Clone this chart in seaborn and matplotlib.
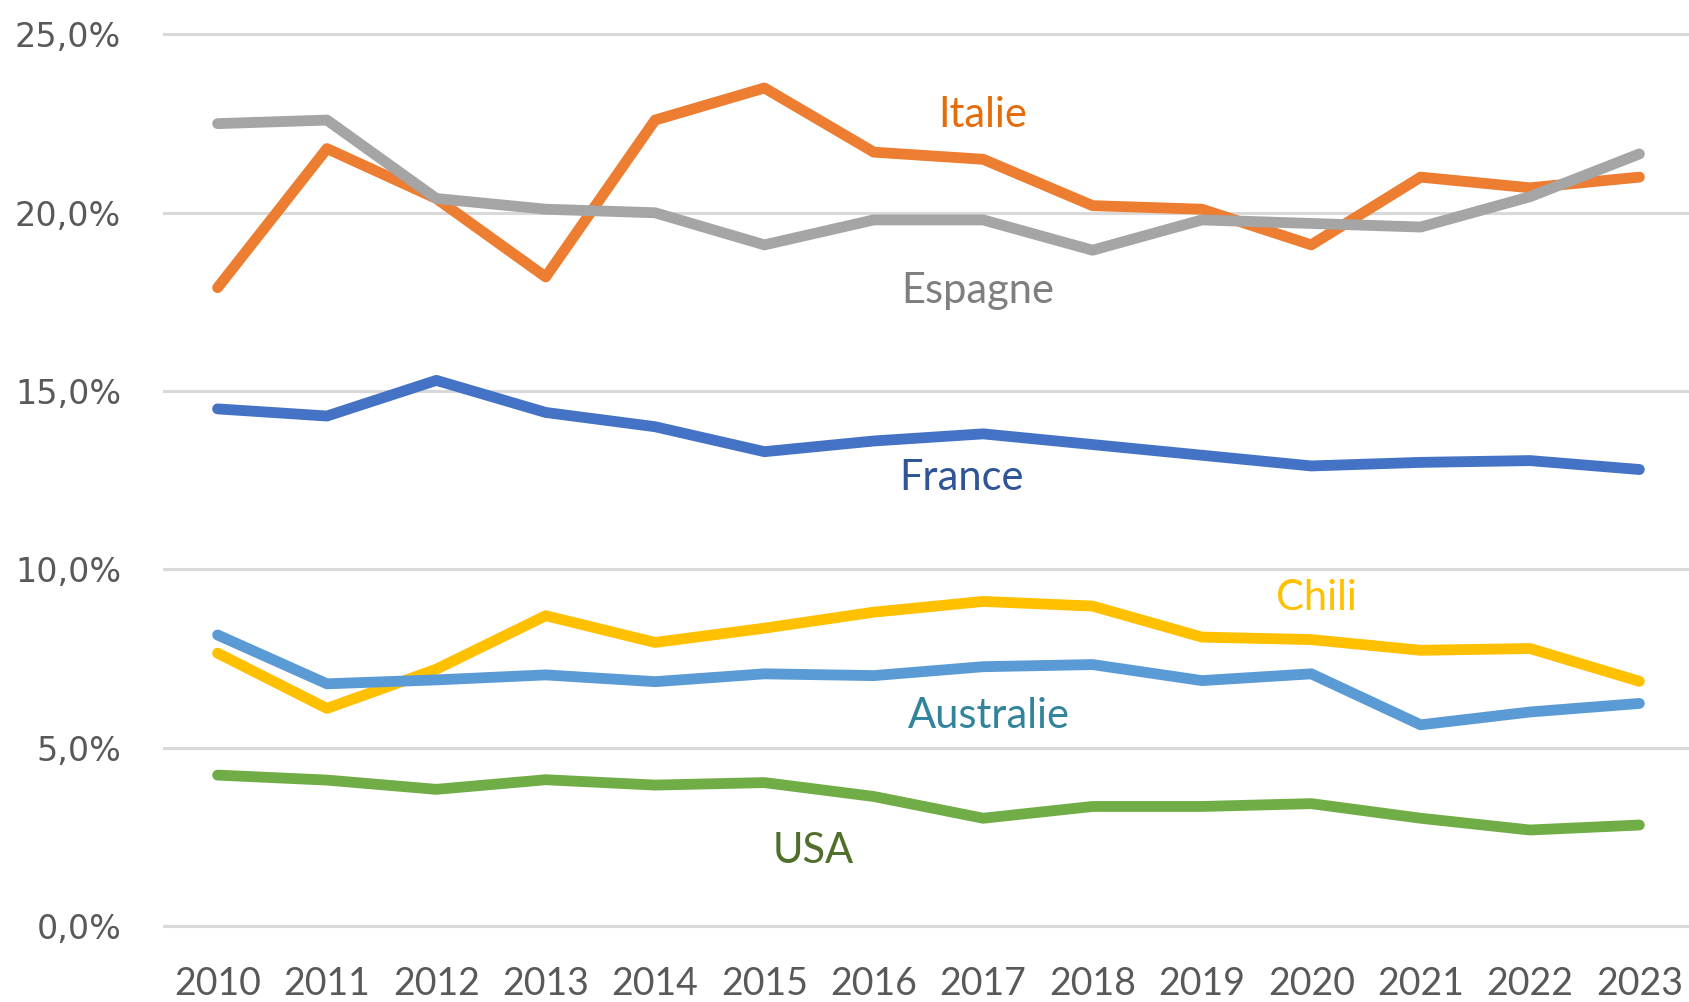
import pandas as pd
import matplotlib.pyplot as plt
import seaborn as sns
from matplotlib.ticker import FuncFormatter

years = list(range(2010, 2024))
countries = ['France', 'Italie', 'Espagne', 'Chili', 'Australie', 'USA']

france = [14.5, 14.3, 15.3, 14.4, 14.0, 13.3, 13.6, 13.8, 13.5, 13.2, 12.9, 13.0, 13.05, 12.8]
italie = [17.9, 21.8, 20.4, 18.2, 22.6, 23.5, 21.7, 21.5, 20.2, 20.1, 19.1, 21.0, 20.7, 21.0]
espagne = [22.5, 22.6, 20.4, 20.1, 20.0, 19.1, 19.8, 19.8, 18.95, 19.8, 19.7, 19.6, 20.45, 21.65]
chili = [7.65, 6.1, 7.2, 8.7, 7.95, 8.35, 8.8, 9.1, 8.97, 8.1, 8.03, 7.73, 7.78, 6.86]
australie = [8.16, 6.79, 6.9, 7.04, 6.85, 7.07, 7.02, 7.27, 7.33, 6.88, 7.07, 5.64, 6.0, 6.24]
usa = [4.23, 4.09, 3.83, 4.1, 3.95, 4.02, 3.63, 3.02, 3.35, 3.35, 3.43, 3.02, 2.69, 2.83]

line_colors = ['#4472C4', '#ED7D31', '#A5A5A5', '#FFC000', '#5B9BD5', '#70AD47']
label_colors = ['#2F5597', '#E46C0A', '#7F7F7F', '#FFC000', '#31849B', '#4F6F2A']
# label anchor positions (year, value) where the text sits
label_x = [2016.8, 2017.0, 2016.95, 2020.05, 2017.05, 2015.45]
label_y = [12.55, 22.75, 17.8, 9.2, 5.9, 2.1]

df = pd.DataFrame({
    'year': years * len(countries),
    'pays': [c for c in countries for _ in years],
    'taux': france + italie + espagne + chili + australie + usa,
})

sns.set_style('white')
plt.rcParams['font.family'] = ['Lato', 'DejaVu Sans']

fig = plt.figure(figsize=(16.9, 10.02), dpi=100)
ax = fig.add_axes([0.0964, 0.0688, 0.906, 0.9039])

sns.lineplot(data=df, x='year', y='taux', hue='pays', hue_order=countries,
             palette=dict(zip(countries, line_colors)), linewidth=7.8,
             solid_capstyle='round', solid_joinstyle='round', legend=False, ax=ax)

for name, x, y, c in zip(countries, label_x, label_y, label_colors):
    ax.text(x, y, name, color=c, fontsize=30, ha='center', va='center')

ax.set_xlim(2009.5, 2023.5)
ax.set_ylim(-0.2, 25.2)
ax.set_yticks([0, 5, 10, 15, 20, 25])
ax.set_xticks(years)
ax.yaxis.set_major_formatter(FuncFormatter(lambda v, p: f'{v:.1f}%'.replace('.', ',')))
ax.grid(axis='y', color='#D9D9D9', linewidth=2.2)
ax.set_axisbelow(True)
for s in ax.spines.values():
    s.set_visible(False)
ax.tick_params(axis='x', length=0, pad=24, labelsize=27, labelcolor='#595959')
ax.tick_params(axis='y', length=0, pad=30, labelsize=24, labelcolor='#595959')
for t in ax.get_yticklabels():
    t.set_family('DejaVu Sans')
ax.set_xlabel('')
ax.set_ylabel('')

fig.savefig('out.png', dpi=100)
